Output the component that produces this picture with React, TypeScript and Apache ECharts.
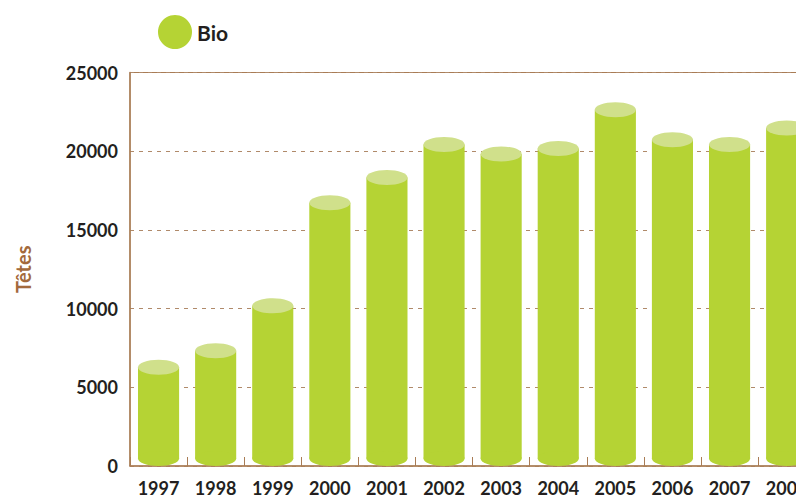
import React, { useEffect, useRef } from "react";
import * as echarts from "echarts";

const years = ["1997", "1998", "1999", "2000", "2001", "2002", "2003", "2004", "2005", "2006", "2007", "2008"];
const bioValues = [5800, 6850, 9700, 16250, 17850, 19950, 19350, 19700, 22150, 20250, 19950, 21000];
const yTicks = { min: 0, max: 25000, interval: 5000 };

const BODY = "#b5d334";
const TOP = "#d0e08b";
const BROWN = "#a97c55";
const TEXT = "#231f20";

export default function App() {
  const ref = useRef<HTMLDivElement>(null);
  useEffect(() => {
    if (!ref.current) return;
    const chart = echarts.init(ref.current, undefined, { renderer: "svg" });
    chart.setOption({
      animation: false,
      backgroundColor: "#ffffff",
      textStyle: { fontFamily: "Lato" },
      legend: {
        left: 153,
        top: 10,
        itemWidth: 34,
        itemHeight: 34,
        icon: "circle",
        itemGap: 6,
        textStyle: { fontSize: 21, fontWeight: "bold", color: TEXT, fontFamily: "Lato" },
        data: ["Bio"],
      },
      grid: {
        left: 130,
        right: 14.8,
        top: 72.5,
        bottom: 32,
        show: true,
        borderColor: BROWN,
        borderWidth: 1,
      },
      xAxis: {
        type: "category",
        data: years,
        boundaryGap: true,
        axisLine: { lineStyle: { color: BROWN, width: 1.5 } },
        axisTick: { show: true, inside: true, length: 9, lineStyle: { color: BROWN } },
        axisLabel: { color: TEXT, fontSize: 18, fontWeight: "bold", margin: 13, fontFamily: "Lato" },
        splitLine: { show: false },
      },
      yAxis: {
        type: "value",
        min: yTicks.min,
        max: yTicks.max,
        interval: yTicks.interval,
        name: "Têtes",
        nameLocation: "middle",
        nameGap: 97,
        nameRotate: 90,
        nameTextStyle: { color: "#a3693c", fontSize: 20, fontWeight: "bold", fontFamily: "Lato" },
        axisLine: { show: true, lineStyle: { color: BROWN, width: 1.5 } },
        axisTick: { show: false },
        axisLabel: {
          color: TEXT,
          fontSize: 18,
          fontWeight: "bold",
          margin: 12,
          fontFamily: "Lato",
          formatter: (v: number) => String(v),
        },
        splitLine: { show: true, lineStyle: { color: "#b08a6a", type: [4, 5], width: 1 } },
      },
      series: [
        {
          name: "Bio",
          type: "custom",
          itemStyle: { color: BODY },
          data: bioValues.map((v, i) => [i, v]),
          encode: { x: 0, y: 1 },
          renderItem: (params: any, api: any) => {
            const idx = api.value(0);
            const top = api.coord([idx, api.value(1)]);
            const base = api.coord([idx, 0]);
            const bw = api.size([1, 0])[0] * 0.72;
            const rx = bw / 2;
            const ry = 7.5;
            const cx = top[0];
            const yTop = top[1] - ry;
            const yBot = base[1] - ry;
            return {
              type: "group",
              children: [
                { type: "rect", shape: { x: cx - rx, y: yTop, width: bw, height: yBot - yTop }, style: { fill: BODY } },
                { type: "ellipse", shape: { cx, cy: yBot, rx, ry }, style: { fill: BODY } },
                { type: "ellipse", shape: { cx, cy: yTop, rx, ry }, style: { fill: TOP } },
              ],
            };
          },
        },
      ],
    });
    return () => chart.dispose();
  }, []);
  return (
    <div style={{ position: "fixed", left: 0, top: 0, width: 796, height: 498, overflow: "hidden", background: "#fff" }}>
      <div ref={ref} style={{ width: 830, height: 498 }} />
    </div>
  );
}
